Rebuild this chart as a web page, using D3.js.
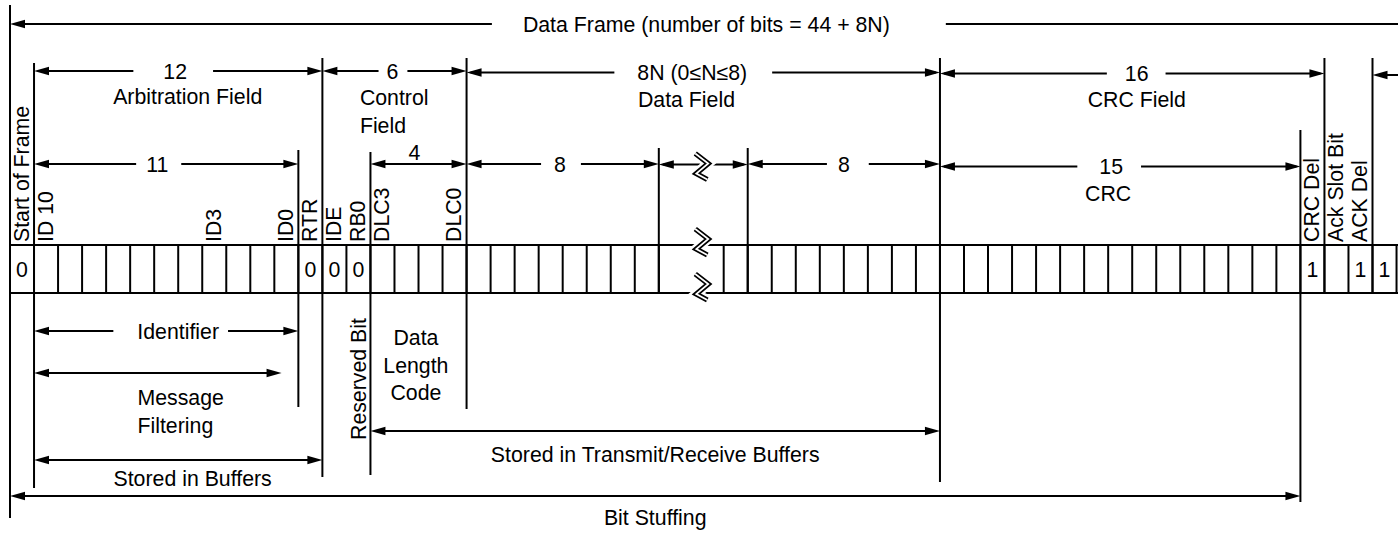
<!DOCTYPE html>
<html><head><meta charset="utf-8">
<script src="https://cdn.jsdelivr.net/npm/d3@7"></script>
<style>
html,body{margin:0;padding:0;background:#fff;}
svg{display:block;font-family:"Liberation Sans",Arial,Helvetica,sans-serif;}
</style></head><body>
<svg id="c" width="1398" height="533"></svg>
<script>
// ---------------- data ----------------
// fields of a CAN standard data frame (bit counts); "gap" is the elided part of the data field
const fieldNames = ["Start of Frame","Identifier","RTR","IDE","RB0","DLC","Data byte (first)","gap","Data byte (last)","CRC","CRC Del","Ack Slot Bit","ACK Del","End of Frame"];
const fieldBits  = [1, 11, 1, 1, 1, 4, 8, 0, 9, 15, 1, 1, 1, 7];
const gapWidthBits = 2.7;

// rotated labels over single bit cells (cell index, gap not counted)
const bitNames     = ["Start of Frame","ID 10","ID3","ID0","RTR","IDE","RB0","DLC3","DLC0","CRC Del","Ack Slot Bit","ACK Del"];
const bitNameCells = [0, 1, 8, 11, 12, 13, 14, 15, 18, 51, 52, 53];

// fixed bit values written in the cells
const bitValues     = ["0","0","0","0","1","1","1"];
const bitValueCells = [0, 12, 13, 14, 51, 53, 54];

// dimension arrows: label, start boundary, end boundary (cell boundaries), tier
const spanText  = ["Data Frame (number of bits = 44 + 8N)","12","6","8N (0≤N≤8)","16","",
                   "11","4","8","","8","15",
                   "Identifier","","","",""];
const spanStart = [0, 1, 13, 19, 36, 54,  1, 15, 19, 27, 28, 36,  1, 1, 15, 1, 0];
const spanEnd   = [61, 13, 19, 36, 52, 61, 12, 19, 27, 28, 36, 51, 12, 11.3, 36, 13, 51];
const spanTier  = [0, 1, 1, 1, 1, 1,  2, 2, 2, 2, 2, 2,  3, 4, 5, 6, 7];

// captions belonging to arrows
const captionText = [["Arbitration Field"],["Control","Field"],["Data Field"],["CRC Field"],["CRC"],
                     ["Message","Filtering"],["Stored in Transmit/Receive Buffers"],["Stored in Buffers"],["Bit Stuffing"]];
const captionSpan = [1, 2, 3, 4, 11, 13, 14, 15, 16];

// captions belonging to fields below the bit row
const dlcCaption = ["Data","Length","Code"];
const reservedCaption = "Reserved Bit";

// ---------------- layout ----------------
const FS = 21.3, LW = 2;
const cellW = 24.03, x0 = 10;
const rowTop = 245, rowBot = 293;
const tierY = [24, 72, 164, 331, 373, 431, 460, 496];
const spanDy   = [0, -1, -1, 0.5, 1.5, 3,  0, 0, 0, 0.5, 0, 2.5,  0, 0, 0, 0, 0];
const spanMode = ["inline","inline","inline","inline","inline","none",
                  "inline","above","inline","break","inline","inline",
                  "inline","none","none","none","none"];
const spanDx   = [-69, -3, -2, -11, 4.5, 0,  -9, -4, -2.7, 0, 0, -9,  12, 0, 0, 0, 0];
const spanPad  = [[31,56],[30,26],[8,9],[23,25],[18,17],[0,0],[10,13],[0,0],[13,15],[0,0],[11,19],[22,18],[24,9],[0,0],[0,0],[0,0],[0,0]];
const capDy    = [33, 34, 34, 33.5, 34, 32, 31, 26, 29];
const capDx    = [9.5, -34.6, -65.3, 4.6, -12, -20.3, 0, 14.4, 0];
const capAnchor= ["middle","start","start","middle","middle","start","middle","middle","middle"];
const guideBoundary = [0, 1, 12, 13, 15, 19, 27, 28, 36, 51, 52, 54];
const guideTop      = [5, 63, 150, 58, 152, 58, 148, 148, 58, 130, 58, 58];
const guideBottom   = [518, 488, 407, 477, 475, 409, 293, 293, 482, 502, 293, 293];

// ---------------- scales ----------------
const gapIdx = fieldNames.indexOf("gap");
const gapCell = d3.sum(fieldBits.slice(0, gapIdx));
const totalCells = d3.sum(fieldBits);
const totalUnits = totalCells + gapWidthBits;
const x = d3.scaleLinear().domain([0, totalUnits]).range([x0, x0 + totalUnits * cellW]);
const unit = b => (b <= gapCell ? b : b + gapWidthBits);
const bx = b => x(unit(b));
const cellL = c => x(c < gapCell ? c : c + gapWidthBits);
const cellR = c => cellL(c) + cellW;

const svg = d3.select("#c");
svg.append("rect").attr("width",1398).attr("height",533).attr("fill","#fff");
const g = svg.append("g");

function hline(xa, xb, y) {
  if (xb <= xa) return;
  g.append("line").attr("x1", xa).attr("x2", xb).attr("y1", y).attr("y2", y)
    .attr("stroke", "#000").attr("stroke-width", LW);
}
function vline(xx, ya, yb) {
  g.append("line").attr("x1", xx).attr("x2", xx).attr("y1", ya).attr("y2", yb)
    .attr("stroke", "#000").attr("stroke-width", LW);
}
function head(xt, y, dir) {
  const L = 15, hw = 4.2;
  g.append("path").attr("d", `M${xt},${y}L${xt - dir*L},${y-hw}L${xt - dir*L},${y+hw}Z`).attr("fill", "#000");
}
function text(t, xx, y, anchor) {
  return g.append("text").attr("x", xx).attr("y", y).attr("text-anchor", anchor || "middle")
    .attr("font-size", FS).attr("fill", "#000").text(t);
}
function breakMark(cx, cy) {
  const pts = [[-7,-13],[6,-3],[-6,7],[5,13]].map(p => [cx + p[0], cy + p[1]]);
  const d = d3.line()(pts);
  g.append("path").attr("d", d).attr("fill","none").attr("stroke","#fff").attr("stroke-width",10);
  g.append("path").attr("d", d).attr("fill","none").attr("stroke","#000").attr("stroke-width",5.2).attr("stroke-linejoin","miter");
  g.append("path").attr("d", d).attr("fill","none").attr("stroke","#fff").attr("stroke-width",1.7).attr("stroke-linejoin","miter");
}

// ---------------- bit row ----------------
hline(x(0), x(totalUnits), rowTop);
hline(x(0), x(totalUnits), rowBot);
const bounds = d3.range(0, gapCell + 1).map(b => x(b))
  .concat(d3.range(gapCell, totalCells + 1).map(b => x(b + gapWidthBits)));
bounds.forEach(bxx => vline(bxx, rowTop, rowBot));

// guides
guideBoundary.forEach((b, i) => {
  const xx = b === gapCell ? x(gapCell) : bx(b);
  vline(xx, guideTop[i], guideBottom[i]);
});

// bit values
bitValues.forEach((v, i) => {
  const c = bitValueCells[i];
  text(v, (cellL(c) + cellR(c)) / 2, (rowTop + rowBot) / 2 + 7.5);
});

// rotated bit labels
bitNames.forEach((t, i) => {
  const c = bitNameCells[i];
  g.append("text").attr("transform", `translate(${cellR(c) - 5.5},${rowTop - 3}) rotate(-90)`)
    .attr("font-size", FS).attr("text-anchor", "start").text(t);
});

// break marks on the bit row
const breakX = x(gapCell + gapWidthBits * 0.67);
breakMark(breakX, rowTop - 3);
breakMark(breakX, rowBot - 6);

// ---------------- arrows ----------------
const spanCenters = [];
spanText.forEach((t, i) => {
  const xa = bx(spanStart[i]);
  const xb = spanStart[i] === gapCell && spanEnd[i] === gapCell + 1 ? x(gapCell + 1 + gapWidthBits) : bx(spanEnd[i]);
  const y = tierY[spanTier[i]] + spanDy[i];
  const cx = (xa + xb) / 2 + spanDx[i];
  spanCenters[i] = {cx: (xa + xb) / 2, y};
  head(xa, y, -1);
  head(xb, y, 1);
  const mode = spanMode[i];
  if (mode === "inline") {
    const tn = text(t, cx, y + 7.5);
    const w = tn.node().getComputedTextLength();
    hline(xa + 4, cx - w / 2 - spanPad[i][0], y);
    hline(cx + w / 2 + spanPad[i][1], xb - 4, y);
  } else if (mode === "above") {
    text(t, cx, y - 4);
    hline(xa + 4, xb - 4, y);
  } else if (mode === "break") {
    hline(xa + 4, xb - 4, y);
    breakMark(breakX, y + 2);
  } else {
    hline(xa + 4, xb - 4, y);
  }
});

// captions
captionText.forEach((lines, i) => {
  const s = spanCenters[captionSpan[i]];
  lines.forEach((ln, k) => text(ln, s.cx + capDx[i], s.y + capDy[i] + k * 27.5, capAnchor[i]));
});

// DLC caption
const dlcIdx = fieldNames.indexOf("DLC");
const dlcStart = d3.sum(fieldBits.slice(0, dlcIdx));
const dlcCx = (cellL(dlcStart) + cellR(dlcStart + fieldBits[dlcIdx] - 1)) / 2 - 2.6;
dlcCaption.forEach((ln, k) => text(ln, dlcCx, 345 + k * 27.5));

// Reserved bit caption (rotated, under RB0)
const rbCell = bitNameCells[bitNames.indexOf("RB0")];
g.append("text").attr("transform", `translate(${cellR(rbCell) - 4.5},440) rotate(-90)`)
  .attr("font-size", FS).attr("text-anchor", "start").text(reservedCaption);
</script>
</body></html>
